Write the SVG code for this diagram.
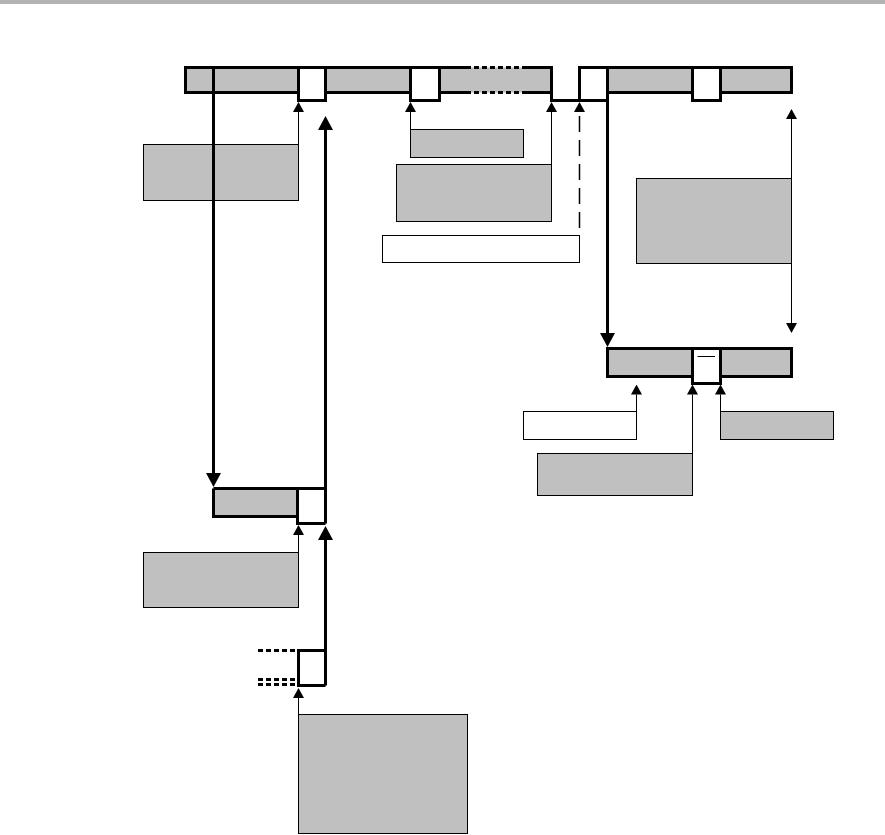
<svg xmlns="http://www.w3.org/2000/svg" width="885" height="835" viewBox="0 0 885 835">
<style>
.fillg{fill:#c0c0c0;stroke:none}
.ol{fill:none;stroke:#000;stroke-width:3;stroke-linejoin:miter}
.dot{fill:none;stroke:#000;stroke-width:3;stroke-dasharray:5 3}
.box{fill:#c0c0c0;stroke:#000;stroke-width:1}
.wbox{fill:#fff;stroke:#000;stroke-width:1}
.thick{fill:none;stroke:#000;stroke-width:3}
.thin{fill:none;stroke:#000;stroke-width:1}
.dash{fill:none;stroke:#000;stroke-width:1.5;stroke-dasharray:16 8}
</style>
<defs>
<marker id="ah" markerUnits="userSpaceOnUse" markerWidth="14" markerHeight="15" viewBox="0 0 14 15" refX="0" refY="7.5" orient="auto"><path d="M0,0L14,7.5L0,15z" fill="#000"/></marker>
<marker id="at" markerUnits="userSpaceOnUse" markerWidth="10" markerHeight="11" viewBox="0 0 10 11" refX="0" refY="5.5" orient="auto"><path d="M0,0L10,5.5L0,11z" fill="#000"/></marker>
<marker id="at2" markerUnits="userSpaceOnUse" markerWidth="10" markerHeight="11" viewBox="0 0 10 11" refX="0" refY="5.5" orient="auto-start-reverse"><path d="M0,0L10,5.5L0,11z" fill="#000"/></marker>
</defs>
<rect x="0" y="0" width="885" height="4" fill="#b3b3b3"/>

<g id="top-bar">
<rect class="fillg" x="185.5" y="67.5" width="113" height="25"/>
<rect class="fillg" x="325.5" y="67.5" width="85" height="25"/>
<rect class="fillg" x="439.5" y="67.5" width="112" height="25"/>
<rect class="fillg" x="607.5" y="67.5" width="85" height="25"/>
<rect class="fillg" x="720.5" y="67.5" width="71" height="25"/>
<path class="ol" d="M466,67.5H185.5V92.5H298.5V100.5H325.5V92.5H410.5V100.5H439.5V92.5H466"/>
<path class="ol" d="M524,67.5H551.5V100.5H607.5V92.5H692.5V100.5H720.5V92.5H791.5V67.5H579.5V100.5"/>
<path class="ol" d="M524,92.5H551.5"/>
<path class="ol" d="M298.5,67.5V92.5M325.5,67.5V92.5M410.5,67.5V92.5M439.5,67.5V92.5M607.5,67.5V92.5M692.5,67.5V92.5M720.5,67.5V92.5"/>
<path class="dot" d="M466,67.5H524M466,92.5H524"/>
</g>

<g id="mid-bar">
<rect class="fillg" x="213.5" y="488.5" width="84" height="28"/>
<path class="ol" d="M213.5,488.5H325.5M213.5,488.5V516.5H297.5M297.5,488.5V523.5H325.5"/>
</g>

<g id="bottom-bar">
<path class="ol" d="M325.5,650.5H298.5V685.5H325.5"/>
<path class="dot" d="M258,650.5H298.5M258,679.5H298.5M258,684.5H298.5"/>
</g>

<g id="right-bar">
<rect class="fillg" x="607.5" y="348.5" width="85" height="28"/>
<rect class="fillg" x="720.5" y="348.5" width="71" height="28"/>
<path class="ol" d="M607.5,348.5H791.5V376.5H720.5V383.5H692.5V376.5H607.5Z"/>
<path class="ol" d="M692.5,348.5V376.5M720.5,348.5V376.5"/>
<path class="thin" d="M697.5,356.5H715"/>
</g>

<g id="box-a"><rect class="box" x="143.5" y="144.5" width="155" height="56"/></g>
<g id="box-b"><rect class="box" x="410.5" y="129.5" width="113" height="28"/></g>
<g id="box-c"><rect class="box" x="396.5" y="164.5" width="155" height="57"/></g>
<g id="box-d"><rect class="wbox" x="382.5" y="235.5" width="197" height="27"/></g>
<g id="box-e"><rect class="box" x="636.5" y="178.5" width="155" height="85"/></g>
<g id="box-f"><rect class="wbox" x="523.5" y="411.5" width="113" height="28"/></g>
<g id="box-g"><rect class="box" x="537.5" y="453.5" width="155" height="42"/></g>
<g id="box-h"><rect class="box" x="720.5" y="411.5" width="113" height="28"/></g>
<g id="box-i"><rect class="box" x="143.5" y="552.5" width="155" height="55"/></g>
<g id="box-j"><rect class="box" x="298.5" y="714.5" width="169" height="119"/></g>

<g id="connectors">
<path class="thick" d="M213.5,67.5V473" marker-end="url(#ah)"/>
<path class="thick" d="M325.5,523.5V130" marker-end="url(#ah)"/>
<path class="thick" d="M325.5,685.5V540" marker-end="url(#ah)"/>
<path class="thick" d="M607.5,67.5V333" marker-end="url(#ah)"/>
<path class="thin" d="M298.5,144.5V112" marker-end="url(#at)"/>
<path class="thin" d="M410.5,129.5V112" marker-end="url(#at)"/>
<path class="thin" d="M551.5,164.5V112" marker-end="url(#at)"/>
<path class="dash" d="M579.5,228V112" marker-end="url(#at)"/>
<path class="thin" d="M791.5,119V323" marker-start="url(#at2)" marker-end="url(#at2)"/>
<path class="thin" d="M298.5,552.5V535" marker-end="url(#at)"/>
<path class="thin" d="M298.5,714.5V698" marker-end="url(#at)"/>
<path class="thin" d="M636.5,411.5V394.5" marker-end="url(#at)"/>
<path class="thin" d="M692.5,453.5V394.5" marker-end="url(#at)"/>
<path class="thin" d="M720.5,411.5V394.5" marker-end="url(#at)"/>
</g>
</svg>
